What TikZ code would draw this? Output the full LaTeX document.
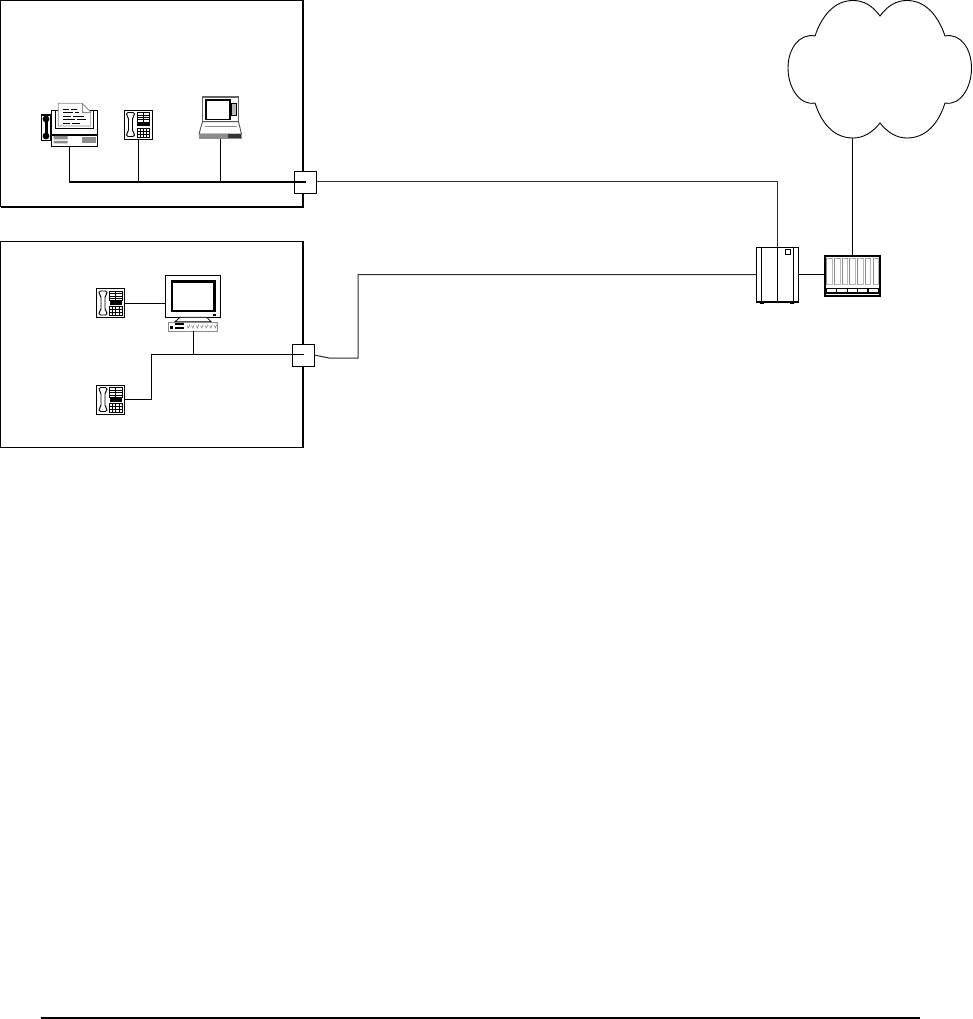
\documentclass[tikz,border=0pt]{standalone}
\usepackage{tikz}
\usetikzlibrary{positioning,calc}
\definecolor{panelgray}{gray}{0.55}
\definecolor{cardgray}{gray}{0.72}
\tikzset{
  room/.style     = {draw, line width=1pt, rectangle, inner sep=0pt, outer sep=0pt},
  roomedge/.style = {line width=2pt},
  junction/.style = {draw, line width=0.9pt, fill=white, rectangle, inner sep=0pt, outer sep=0pt,
                     minimum width=22pt, minimum height=22pt},
  iconbox/.style  = {rectangle, inner sep=0pt, outer sep=0pt},
  wire/.style     = {line width=0.9pt},
  bus/.style      = {line width=1.6pt},
  trunk/.style    = {line width=1pt, black!82},
  pics/deskphone/.style = {code={
    \draw[line width=0.9pt, fill=white] (-14,-14.5) rectangle (14,14.5);
    \draw[line width=0.9pt, fill=white, rounded corners=1.5pt]
      (-11.5,-12) -- (-3.5,-12) -- (-3.5,-9) -- (-5.5,-7) -- (-5.5,7) -- (-3.5,9)
      -- (-3.5,12) -- (-11.5,12) -- (-11.5,9) -- (-9.5,7) -- (-9.5,-7) -- (-11.5,-9) -- cycle;
    \draw[line width=0.7pt] (-1,-12) rectangle (11.5,-2.5);
    \draw[line width=0.7pt] (5.2,-12) -- (5.2,-2.5);
    \foreach \rowy in {-9.5,-7,-4.7} \draw[line width=0.6pt] (-1,\rowy) -- (11.5,\rowy);
    \fill (-1,-2.5) rectangle (11.5,2);
    \draw[line width=0.7pt] (-1,3.5) rectangle (11.5,12.5);
    \foreach \rowy in {6.5,9.5} \draw[line width=0.6pt] (-1,\rowy) -- (11.5,\rowy);
    \foreach \colx in {2.1,5.2,8.3} \draw[line width=0.6pt] (\colx,3.5) -- (\colx,12.5);
  }},
  pics/faxset/.style = {code={
    % handset
    \draw[line width=1.3pt, fill=white] (-32.5,-13) rectangle (-23,12.5);
    \draw[line width=3pt] (-28,-9) -- (-28,8);
    \fill (-28,-9) circle (3.4pt) (-28,8) circle (3.4pt);
    % body
    \draw[line width=0.9pt, fill=white] (-23,-18) rectangle (23,18);
    \draw[line width=0.9pt] (-19,-18) -- (-19,0) -- (19,0) -- (19,-18);
    \draw[line width=1.2pt] (-23,7) -- (23,7);
    \fill[panelgray] (-20.5,8) rectangle (-6.5,11.3) (-20.5,13) rectangle (-6.5,15.3);
    \fill[panelgray] (8,8.7) rectangle (21.5,15.3);
    % paper
    \draw[line width=0.8pt, panelgray, fill=white] (-15.7,-24.7) -- (8,-24.7) -- (16.7,-16)
      -- (16.7,-2) -- (-15.7,-2) -- cycle;
    \draw[line width=0.6pt, panelgray] (8,-24.7) -- (8,-16) -- (16.7,-16);
    \draw[line width=0.7pt] (-11,-19) -- (-5,-19) (-3,-19) -- (3,-19);
    \draw[line width=0.7pt] (-11,-15.5) -- (-1,-15.5) (1,-15.5) -- (5,-15.5);
    \draw[line width=0.7pt] (-11,-12) -- (-3,-12) (-1,-12) -- (10,-12);
    \draw[line width=0.7pt] (-11,-8.5) -- (1,-8.5) (3,-8.5) -- (12,-8.5);
    \draw[line width=0.7pt] (-11,-5) -- (-4,-5) (-2,-5) -- (6,-5);
  }},
  pics/laptopset/.style = {code={
    \draw[line width=1.2pt, panelgray!70!black, fill=white] (-18,-21) rectangle (18,3.7);
    \draw[line width=1.2pt, fill=white] (-14.5,-18) rectangle (9.5,1.3);
    \draw[line width=0.7pt, fill=cardgray] (11,-15) rectangle (16,-3);
    \draw[line width=0.9pt, panelgray!60!black, fill=white] (-18,3.7) -- (18,3.7) -- (21,16) -- (-21.5,16) -- cycle;
    \draw[line width=0.7pt, panelgray] (-16,8.7) -- (16,8.7);
    \fill[panelgray] (-21.5,16) rectangle (21,20.7);
    \fill[black!80] (7,16.5) rectangle (20,20);
  }},
  pics/crtset/.style = {code={
    \draw[line width=0.9pt, fill=white] (-27.7,-27.7) rectangle (27.7,14.3);
    \draw[line width=2.6pt, fill=white] (-21,-21.5) rectangle (21.5,8);
    \draw[line width=0.8pt, fill=white] (-13,14.3) -- (13.7,14.3) -- (18,18.7) -- (-18,18.7) -- cycle;
    \fill (20,11) rectangle (23,12.5);
  }},
  pics/keyboardset/.style = {code={
    \draw[line width=1pt, panelgray, fill=white] (-24.7,-4.5) rectangle (24.7,4.5);
    \fill (-23,-1) rectangle (-20,2.5);
    \fill (-18,0.5) rectangle (-9,2.5);
    \fill (-18,-3.5) rectangle (-9,-1.8);
    \foreach \keyx in {-6,-1.5,...,21} \draw[line width=0.6pt, panelgray] (\keyx,-1) -- +(1.4,2.5) -- +(2.8,-1);
  }},
  pics/cabinetset/.style = {code={
    \draw[line width=0.9pt, fill=white] (-21,-27.5) rectangle (21,27.5);
    \draw[line width=1.4pt] (-21,27.5) -- (21,27.5);
    \foreach \slotx in {-16,0,16} \draw[line width=0.8pt] (\slotx,-27.5) -- (\slotx,27.5);
    \draw[line width=0.8pt] (8,-25.5) rectangle (13,-20);
    \fill (-17,27.5) rectangle (-13,29.3) (13,27.5) rectangle (17,29.3);
  }},
  pics/rackset/.style = {code={
    \fill (-28.2,-20.7) rectangle (28.2,20.7);
    \fill[white] (-26.4,-19.4) rectangle (26.4,19);
    \foreach \cardx in {-25.8,-18.1,...,21} {
      \draw[line width=0.8pt, cardgray] (\cardx,-18) rectangle +(5.5,26.5);
      \draw[line width=0.8pt, panelgray] (\cardx,-18.5) -- +(0,27);
      \fill[panelgray] (\cardx+3,-18.5) rectangle +(2.5,1.5);
    }
    \fill (-26.4,11.5) rectangle (26.4,17.5);
    \foreach \slotx in {-25.6,-15.2,-4.8,5.6,16} \fill[white] (\slotx,12.7) rectangle +(9.2,3.6);
  }},
}
\begin{document}
\begin{tikzpicture}[x=1pt,y=-1pt]
\useasboundingbox (0,0) rectangle (973,1019);
% rooms
\node[room,minimum width=302.5pt,minimum height=206pt] (room a) at (151.75,103.5) {};
\node[room,minimum width=302.5pt,minimum height=206pt] (room b) at (151.75,344) {};
\draw[roomedge] (room a.north east) -- (room a.south east) -- (room a.south west);
\draw[roomedge] (room b.north east) -- (room b.south east);
% equipment, upper room
\node[iconbox,minimum width=46pt,minimum height=36pt] (fax) at (74,128) {};
\node[iconbox,minimum width=28pt,minimum height=29pt] (tel a) at (138,124.5) {};
\node[iconbox,minimum width=43pt,minimum height=42pt] (laptop) at (220.5,118) {};
\node[junction] (box a) at (305.5,182) {};
\pic at (fax) {faxset};
\pic at (tel a) {deskphone};
\pic at (laptop) {laptopset};
% equipment, lower room
\node[iconbox,minimum width=56pt,minimum height=42pt] (crt) at (193,296) {};
\node[iconbox,minimum width=50pt,minimum height=9pt] (keys) at (193,326.5) {};
\node[iconbox,minimum width=29pt,minimum height=28pt] (tel b) at (110.5,303) {};
\node[iconbox,minimum width=29pt,minimum height=29pt] (tel c) at (110.5,399.5) {};
\node[junction] (box b) at (303,355) {};
\pic at (193,303) {crtset};
\pic at (keys) {keyboardset};
\pic at (tel b) {deskphone};
\pic at (tel c) {deskphone};
% exchange side
\node[iconbox,minimum width=42pt,minimum height=55pt] (cabinet) at (777,274.5) {};
\node[iconbox,minimum width=57pt,minimum height=42pt] (rack) at (852.5,276) {};
\pic at (cabinet) {cabinetset};
\pic at (rack) {rackset};
\coordinate (cloud foot) at (852,138);
\draw[line width=0.9pt] (880,16) .. controls (888,5) and (897,0.5) .. (907,0.5)
  .. controls (925,0.5) and (938,15) .. (945,36)
  .. controls (960,33) and (971.5,48) .. (971.5,68)
  .. controls (971.5,88) and (960,106) .. (945,103)
  .. controls (938,125) and (925,138) .. (907,138)
  .. controls (897,138) and (888,133) .. (880,123)
  .. controls (872,133) and (863,138) .. (853,138)
  .. controls (835,138) and (822,125) .. (815,103)
  .. controls (800,106) and (788,88) .. (788,68)
  .. controls (788,48) and (800,33) .. (815,36)
  .. controls (822,15) and (835,0.5) .. (853,0.5)
  .. controls (863,0.5) and (872,5) .. (880,16) -- cycle;
% wiring
\coordinate (fax tap) at (69,146);
\coordinate (bus a) at (306,182);
\coordinate (bus b) at (304,354);
\coordinate (bus b tee) at (151,354);
\draw[wire] (fax tap) -- (fax tap |- bus a);
\draw[bus] (fax tap |- bus a) -- (bus a);
\draw[wire] (tel a.south) -- (tel a.south |- bus a);
\draw[wire] (laptop.south) -- (laptop.south |- bus a);
\draw[wire] (tel b.east) -- (tel b.east -| crt.west);
\draw[wire] (keys.south) -- (keys.south |- bus b);
\draw[wire] (tel c.east) -| (bus b tee) -- (bus b);
\draw[trunk] (box a.east) -| (cabinet.north);
\draw[trunk] (box b.east) -- (329,358) -- (358,358) |- (cabinet.west);
\draw[wire] (cabinet.east) -- (cabinet.east -| rack.west);
\draw[wire] (cloud foot) -- (cloud foot |- rack.north);
% rule at the foot of the page
\coordinate (rule start) at (41,1018);
\coordinate (rule end) at (920,1018);
\draw[line width=2pt] (rule start) -- (rule end);
\end{tikzpicture}
\end{document}
